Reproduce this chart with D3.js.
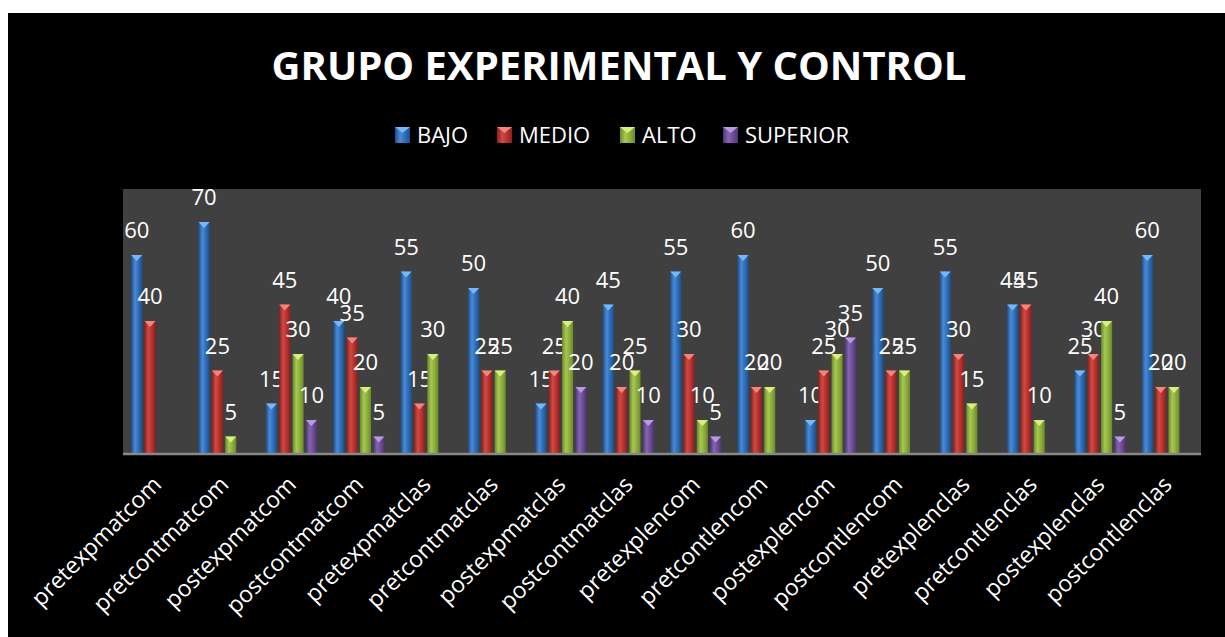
<!DOCTYPE html>
<html>
<head>
<meta charset="utf-8">
<script src="https://cdn.jsdelivr.net/npm/d3@7"></script>
<style>
  body { margin: 0; background: #fff; }
  text { font-family: "Open Sans", "Noto Sans", sans-serif; fill: #fff; }
</style>
</head>
<body>
<div id="chart"></div>
<script>
var width = 1225, height = 637;

var categories = ["pretexpmatcom", "pretcontmatcom", "postexpmatcom", "postcontmatcom",
  "pretexpmatclas", "pretcontmatclas", "postexpmatclas", "postcontmatclas",
  "pretexplencom", "pretcontlencom", "postexplencom", "postcontlencom",
  "pretexplenclas", "pretcontlenclas", "postexplenclas", "postcontlenclas"];
var seriesNames = ["BAJO", "MEDIO", "ALTO", "SUPERIOR"];
var bajo     = [60, 70, 15, 40, 55, 50, 15, 45, 55, 60, 10, 50, 55, 45, 25, 60];
var medio    = [40, 25, 45, 35, 15, 25, 25, 20, 30, 20, 25, 25, 30, 45, 30, 20];
var alto     = [null, 5, 30, 20, 30, 25, 40, 25, 10, 20, 30, 25, 15, 10, 40, 20];
var superior = [null, null, 10, 5, null, null, 20, 10, 5, null, 35, null, null, null, 5, null];
var yTicks = [0, 80];

var series = [bajo, medio, alto, superior];
// dark edge, mid, light center, cap
var colors = [
  ["#1d4f8e", "#2c6ab4", "#4a8ad6", "#7ab6f2"],
  ["#8a1f1d", "#b5302d", "#d04a45", "#f08680"],
  ["#6a8a2a", "#8aaa3a", "#a8c852", "#d8f080"],
  ["#4e3575", "#6b4a96", "#8466b0", "#b89ae0"]
];

var plot = {left: 123, right: 1201, top: 189, bottom: 453};

var svg = d3.select("#chart").append("svg")
  .attr("width", width).attr("height", height);

var defs = svg.append("defs");
colors.forEach(function(c, i) {
  var g = defs.append("linearGradient").attr("id", "grad" + i)
    .attr("x1", "0%").attr("x2", "100%").attr("y1", "0%").attr("y2", "0%");
  g.append("stop").attr("offset", "0%").attr("stop-color", c[0]);
  g.append("stop").attr("offset", "35%").attr("stop-color", c[2]);
  g.append("stop").attr("offset", "70%").attr("stop-color", c[1]);
  g.append("stop").attr("offset", "100%").attr("stop-color", c[0]);
});

svg.append("rect").attr("x", 8).attr("y", 13)
  .attr("width", width - 8).attr("height", height - 13).attr("fill", "#000");

svg.append("text")
  .attr("x", 619).attr("y", 80)
  .attr("text-anchor", "middle")
  .style("font-weight", "bold").style("font-size", "40px")
  .text("GRUPO EXPERIMENTAL Y CONTROL");

// legend
var legendX = [395, 497, 620, 723];
var legend = svg.append("g");
seriesNames.forEach(function(name, i) {
  var lg = legend.append("g").attr("transform", "translate(" + legendX[i] + ",127)");
  lg.append("rect").attr("width", 15).attr("height", 16).attr("fill", "url(#grad" + i + ")");
  lg.append("path").attr("d", "M0,0 L15,0 L7.5,6 Z").attr("fill", colors[i][3]);
  lg.append("text").attr("x", 22).attr("y", 16)
    .style("font-size", "22px").text(name);
});

svg.append("rect")
  .attr("x", plot.left).attr("y", plot.top)
  .attr("width", plot.right - plot.left).attr("height", plot.bottom - plot.top)
  .attr("fill", "#404040");

var x0 = d3.scaleBand().domain(categories).range([plot.left, plot.right]).padding(0);
var groupW = 51;
var x1 = d3.scaleBand().domain(d3.range(4))
  .range([(x0.bandwidth() - groupW) / 2, (x0.bandwidth() + groupW) / 2])
  .paddingInner(0.17).paddingOuter(0);
var y = d3.scaleLinear().domain(d3.extent(yTicks)).range([plot.bottom, plot.top]);

var data = [];
categories.forEach(function(cat, ci) {
  series.forEach(function(s, si) {
    if (s[ci] != null) data.push({cat: cat, s: si, v: s[ci]});
  });
});

var bars = svg.append("g").selectAll("g")
  .data(data).enter().append("g")
  .attr("transform", function(d) { return "translate(" + (x0(d.cat) + x1(d.s)) + ",0)"; });

var bw = x1.bandwidth();
bars.append("rect")
  .attr("x", 0).attr("y", function(d) { return y(d.v); })
  .attr("width", bw).attr("height", function(d) { return y(0) - y(d.v); })
  .attr("fill", function(d) { return "url(#grad" + d.s + ")"; });

bars.append("path")
  .attr("d", function(d) {
    var t = y(d.v);
    return "M0," + t + " L" + bw + "," + t + " L" + (bw / 2) + "," + (t + 6) + " Z";
  })
  .attr("fill", function(d) { return colors[d.s][3]; });

bars.append("text")
  .attr("x", bw / 2)
  .attr("y", function(d) { return y(d.v) - 17; })
  .attr("text-anchor", "middle")
  .style("font-size", "22px")
  .text(function(d) { return d.v; });

// x axis
var xAxis = svg.append("g")
  .attr("transform", "translate(0," + plot.bottom + ")")
  .call(d3.axisBottom(x0).tickSize(0).tickPadding(0));
xAxis.select(".domain").attr("stroke", "#888").attr("stroke-width", 2.5)
  .attr("d", "M" + plot.left + ",1H" + plot.right);
xAxis.selectAll("text")
  .style("font-size", "23px").style("fill", "#fff")
  .attr("text-anchor", "end")
  .attr("dy", null).attr("y", 0).attr("x", 0)
  .attr("transform", "translate(6,33) rotate(-45)");
</script>
</body>
</html>
